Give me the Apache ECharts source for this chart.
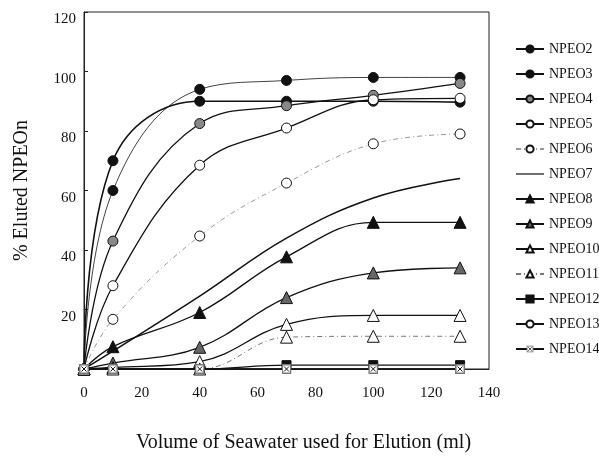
<!DOCTYPE html>
<html>
<head>
<meta charset="utf-8">
<script src="https://cdn.jsdelivr.net/npm/echarts@6/dist/echarts.min.js"></script>
<style>
  html, body { margin: 0; padding: 0; background: #fff; }
  #elution { width: 599px; height: 458px; }
</style>
</head>
<body>
<div id="elution"></div>
<script>
  // volume of seawater (ml)
  const volume = [0, 10, 40, 70, 100, 130]
  const seriesNames = ['NPEO2', 'NPEO3', 'NPEO4', 'NPEO5', 'NPEO6', 'NPEO7', 'NPEO8',
    'NPEO9', 'NPEO10', 'NPEO11', 'NPEO12', 'NPEO13', 'NPEO14']
  // % eluted
  const npeo2 = [0, 60, 94, 97, 98, 98]
  const npeo3 = [0, 70, 90, 90, 90, 89.7]
  const npeo4 = [0, 43, 82.5, 88.5, 92, 96]
  const npeo5 = [0, 28, 68.5, 81, 90.5, 91]
  const npeo6 = [0, 16.7, 44.7, 62.5, 75.7, 79]
  const npeo7 = [0, 6, 24.5, 44, 57.5, 64]
  const npeo8 = [0, 7.5, 19, 37.7, 49.3, 49.3]
  const npeo9 = [0, 2, 7.3, 24, 32.3, 34]
  const npeo10 = [0, 0.5, 2.5, 15, 18, 18]
  const npeo11 = [0, 0, 0, 10.7, 11, 11]
  const npeo12 = [0, 0, 0, 1.3, 1.3, 1.3]
  const npeo13 = [0, 0, 0, 0, 0, 0]
  const npeo14 = [0, 0, 0, 0, 0, 0]
  const xTicks = [0, 20, 40, 60, 80, 100, 120, 140]
  const yTicks = [0, 20, 40, 60, 80, 100, 120]

  const serif = 'Liberation Serif'
  const dashDot = [5, 3, 1, 3]

  // grey box with a cross, as in the original marker
  const crossBox = 'image://data:image/svg+xml;utf8,' + encodeURIComponent(
    '<svg xmlns="http://www.w3.org/2000/svg" width="20" height="20">' +
    '<rect x="1.5" y="1.5" width="17" height="17" fill="#fff" stroke="#777" stroke-width="3"/>' +
    '<path d="M5 5L15 15M15 5L5 15" stroke="#111" stroke-width="2"/></svg>')
  // plain line for the legend of the series without markers
  const plainLine = 'path://M0,0H28V1.2H0Z'

  function pairs (values) {
    return volume.map((v, i) => [v, values[i]])
  }

  function makeSeries (name, values, symbol, size, fill, line) {
    return {
      name: name,
      type: 'line',
      data: pairs(values),
      smooth: 0.4,
      symbol: symbol,
      symbolSize: size,
      showSymbol: symbol !== 'none',
      itemStyle: {color: fill, borderColor: '#111', borderWidth: 1, opacity: 1},
      lineStyle: Object.assign({color: '#111', width: 1.3}, line || {}),
      emphasis: {disabled: true},
      animation: false
    }
  }

  const allValues = [npeo2, npeo3, npeo4, npeo5, npeo6, npeo7, npeo8,
    npeo9, npeo10, npeo11, npeo12, npeo13, npeo14]
  const looks = [
    ['circle', 10, '#111', {width: 0.8}],
    ['circle', 10, '#111', {width: 1.6}],
    ['circle', 10, '#888', {}],
    ['circle', 10, '#fff', {}],
    ['circle', 10, '#fff', {color: '#999', width: 1, type: dashDot}],
    ['none', 0, '#111', {width: 1.5}],
    ['triangle', 12, '#111', {}],
    ['triangle', 12, '#666', {}],
    ['triangle', 12, '#fff', {}],
    ['triangle', 12, '#fff', {color: '#777', width: 1, type: dashDot}],
    ['rect', 9, '#111', {}],
    ['circle', 5, '#fff', {width: 1}],
    [crossBox, 10, '#888', {}]
  ]
  const seriesData = seriesNames.map((n, i) =>
    makeSeries(n, allValues[i], looks[i][0], looks[i][1], looks[i][2], looks[i][3]))

  const legendData = seriesNames.map(n =>
    n === 'NPEO7'
      ? {name: n, icon: plainLine, itemStyle: {color: '#111', borderWidth: 0}}
      : {name: n})

  const option = {
    backgroundColor: '#fff',
    animation: false,
    grid: {left: 84, right: 110, top: 12, bottom: 86, show: true, borderColor: '#222', borderWidth: 1},
    legend: {
      orient: 'vertical',
      left: 515,
      top: 42,
      padding: 0,
      itemWidth: 28,
      itemHeight: 9,
      itemGap: 11,
      data: legendData,
      textStyle: {fontFamily: serif, fontSize: 14, color: '#111', lineHeight: 14}
    },
    xAxis: {
      type: 'value',
      min: xTicks[0],
      max: xTicks[xTicks.length - 1],
      interval: 20,
      name: 'Volume of Seawater used for Elution (ml)',
      nameLocation: 'middle',
      nameGap: 64,
      nameTextStyle: {fontFamily: serif, fontSize: 20, color: '#111', padding: [0, 0, 0, 34]},
      axisLine: {lineStyle: {color: '#222'}},
      axisTick: {show: false},
      axisLabel: {fontFamily: serif, fontSize: 15, color: '#111', margin: 17},
      splitLine: {show: false}
    },
    yAxis: {
      type: 'value',
      min: yTicks[0],
      max: yTicks[yTicks.length - 1],
      interval: 20,
      name: '% Eluted NPEOn',
      nameLocation: 'middle',
      nameRotate: 90,
      nameGap: 52,
      nameTextStyle: {fontFamily: serif, fontSize: 20, color: '#111'},
      axisLine: {show: true, lineStyle: {color: '#222'}},
      axisTick: {show: true, inside: true, length: 4, lineStyle: {color: '#222'}},
      axisLabel: {
        fontFamily: serif, fontSize: 15, color: '#111', margin: 8,
        verticalAlign: 'top',
        formatter: v => (v === 0 ? '' : String(v))
      },
      splitLine: {show: false}
    },
    series: seriesData
  }

  const chart = echarts.init(document.getElementById('elution'))
  chart.setOption(option)
</script>
</body>
</html>
